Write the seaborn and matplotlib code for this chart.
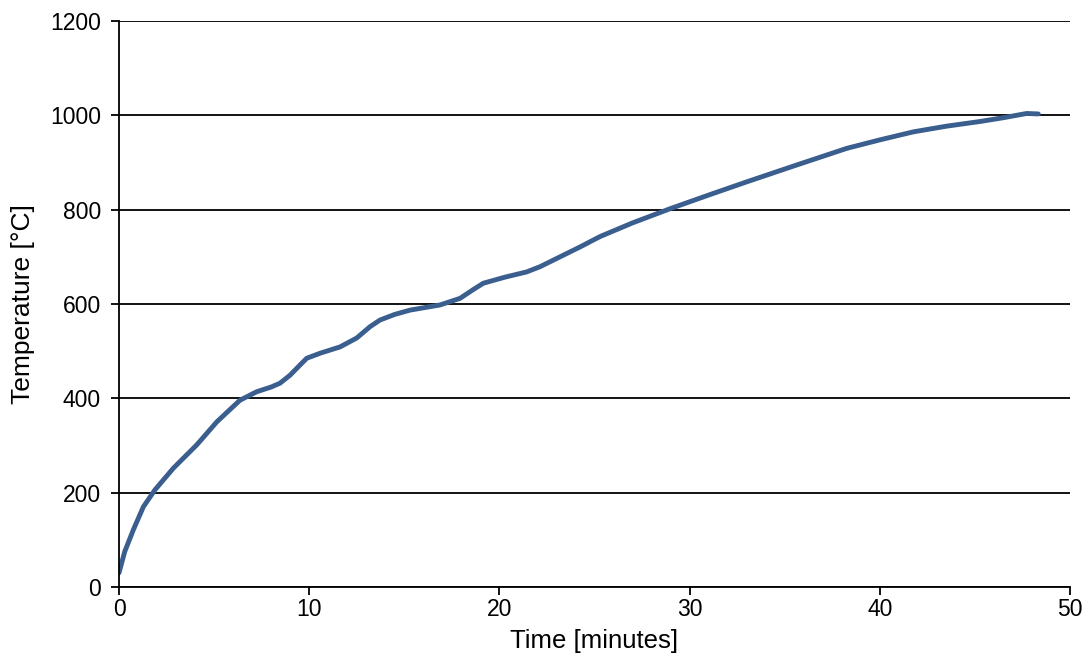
import matplotlib
matplotlib.use("Agg")
import matplotlib.pyplot as plt
import seaborn as sns

# furnace temperature curve
time_min = [0.0, 0.3, 0.75, 1.28, 1.89, 2.86, 4.08, 5.14, 5.8, 6.36, 7.24, 8.0, 8.46, 8.99,
            9.5, 9.87, 10.6, 11.62, 12.5, 13.2, 13.72, 14.5, 15.30, 16.88, 17.93, 18.6,
            19.15, 20.3, 21.43, 22.13, 24.24, 25.29, 27.0, 28.97, 31.0, 33.0, 35.5,
            38.26, 40.0, 41.76, 43.5, 45.27, 46.5, 47.72, 48.33]
temp_c = [30, 75, 121, 170, 206, 252, 301, 350, 375, 396, 414, 424, 432, 449,
          470, 485, 496, 509, 528, 552, 566, 578, 587, 598, 612, 630,
          644, 657, 668, 679, 721, 743, 772, 802, 831, 859, 893,
          930, 948, 965, 977, 987, 995, 1004, 1003]

sns.set_theme(style="white")
plt.rcParams["font.family"] = ["Liberation Sans", "DejaVu Sans"]

fig = plt.figure(figsize=(10.89, 6.59), dpi=100)
ax = fig.add_axes([0.1093, 0.1093, 0.8733, 0.8588])

sns.lineplot(x=time_min, y=temp_c, ax=ax, color="#3A5F8F", linewidth=3.5, sort=False)

ax.set_xlim(0, 50)
ax.set_ylim(0, 1200)
ax.set_xticks(range(0, 51, 10))
ax.set_yticks(range(0, 1201, 200))
ax.yaxis.grid(True, color="black", linewidth=1.3)
ax.xaxis.grid(False)
ax.set_axisbelow(True)

for side in ["top", "right"]:
    ax.spines[side].set_visible(False)
for side in ["left", "bottom"]:
    ax.spines[side].set_color("black")
    ax.spines[side].set_linewidth(1.3)

ax.tick_params(axis="both", direction="out", length=6, width=1.3, color="black",
               labelsize=16.5, labelcolor="black", bottom=True, left=True)
ax.tick_params(axis="x", pad=2)
ax.tick_params(axis="y", pad=7)
ax.set_xlabel("Time [minutes]", fontsize=18.5, color="black", labelpad=6)
ax.set_ylabel("Temperature [°C]", fontsize=19, color="black", labelpad=11)

fig.savefig("out.png", dpi=100)
